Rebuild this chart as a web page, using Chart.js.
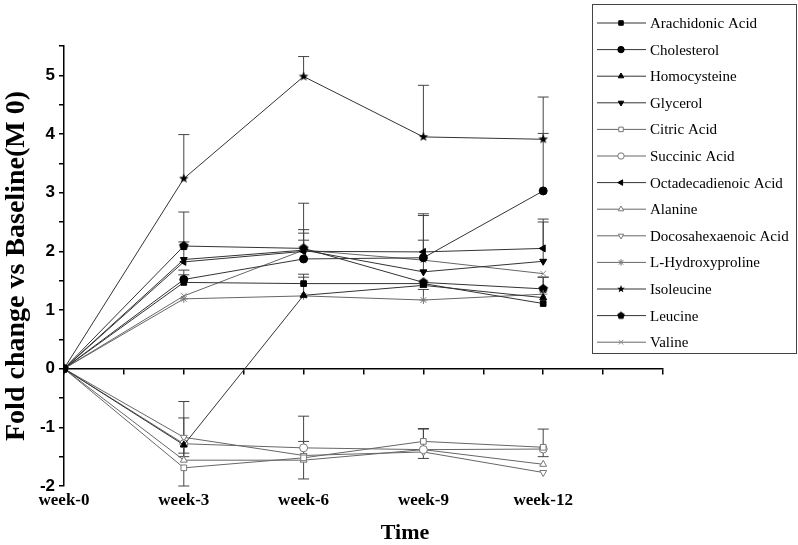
<!DOCTYPE html>
<html>
<head>
<meta charset="utf-8">
<script src="https://cdn.jsdelivr.net/npm/chart.js@4.4.1/dist/chart.umd.min.js"></script>
<style>
  html, body { margin: 0; padding: 0; background: #fff; }
  #wrap { width: 798px; height: 545px; }
</style>
</head>
<body>
<div id="wrap"><canvas id="myChart"></canvas></div>
<script>
// time points (weeks) and labels
const weeks = [0, 3, 6, 9, 12];
const xTickLabels = ['week-0', 'week-3', 'week-6', 'week-9', 'week-12'];
const yTickLabels = [-2, -1, 0, 1, 2, 3, 4, 5];
const xTitle = 'Time';

const names = ['Arachidonic Acid', 'Cholesterol', 'Homocysteine', 'Glycerol', 'Citric Acid',
  'Succinic Acid', 'Octadecadienoic Acid', 'Alanine', 'Docosahexaenoic Acid',
  'L-Hydroxyproline', 'Isoleucine', 'Leucine', 'Valine'];

// fold change values
const arachidonic = [0, 1.47, 1.45, 1.45, 1.11];
const cholesterol = [0, 1.52, 1.87, 1.89, 3.03];
const homocysteine = [0, -1.30, 1.25, 1.42, 1.21];
const glycerol = [0, 1.86, 2.02, 1.65, 1.83];
const citric = [0, -1.69, -1.52, -1.24, -1.34];
const succinic = [0, -1.28, -1.35, -1.38, -1.37];
const octadecadienoic = [0, 1.82, 2.00, 1.99, 2.05];
const alanine = [0, -1.56, -1.56, -1.38, -1.63];
const docosahexaenoic = [0, -1.17, -1.48, -1.42, -1.77];
const hydroxyproline = [0, 1.19, 1.24, 1.17, 1.27];
const isoleucine = [0, 3.24, 4.98, 3.95, 3.91];
const leucine = [0, 2.09, 2.05, 1.47, 1.36];
const valine = [0, 1.24, 2.02, 1.85, 1.62];

// error bars (signed: + goes up, - goes down)
const errArachidonic = [0, 0.13, 0.16, 0, 0];
const errCholesterol = [0, 0.16, 0, 0.75, 0.98];
const errHomocysteine = [0, 0.46, 0.31, 0, 0.35];
const errGlycerol = [0, 0.30, 0.29, 0.54, 0.67];
const errCitric = [0, -0.31, -0.36, 0.21, -0.16];
const errSuccinic = [0, -0.22, 0.11, 0, 0.34];
const errOctadecadienoic = [0, 0, 0.37, 0.62, 0.50];
const errAlanine = [0, 1.0, 0.75, 0.36, 0];
const errDocosahexaenoic = [0, -0.27, 0, -0.11, 0];
const errHydroxyproline = [0, 0, 0, 0.18, 0];
const errIsoleucine = [0, 0.75, 0.34, 0.88, 0.72];
const errLeucine = [0, 0.58, 0.77, 0, 0.20];
const errValine = [0, 0, 0.17, 0, 0];

const values = [arachidonic, cholesterol, homocysteine, glycerol, citric, succinic,
  octadecadienoic, alanine, docosahexaenoic, hydroxyproline, isoleucine, leucine, valine];
const errors = [errArachidonic, errCholesterol, errHomocysteine, errGlycerol, errCitric, errSuccinic,
  errOctadecadienoic, errAlanine, errDocosahexaenoic, errHydroxyproline, errIsoleucine, errLeucine, errValine];

// custom marker images
function starImg(r) {
  const c = document.createElement('canvas');
  c.width = c.height = r * 2 + 2;
  const g = c.getContext('2d');
  g.fillStyle = '#000';
  g.beginPath();
  for (let i = 0; i < 10; i++) {
    const a = -Math.PI / 2 + i * Math.PI / 5;
    const rr = i % 2 ? r * 0.42 : r;
    g.lineTo(r + 1 + rr * Math.cos(a), r + 1 + rr * Math.sin(a));
  }
  g.closePath();
  g.fill();
  return c;
}
function pentaImg(r) {
  const c = document.createElement('canvas');
  c.width = c.height = r * 2 + 2;
  const g = c.getContext('2d');
  g.fillStyle = '#000';
  g.beginPath();
  for (let i = 0; i < 5; i++) {
    const a = -Math.PI / 2 + i * 2 * Math.PI / 5;
    g.lineTo(r + 1 + r * Math.cos(a), r + 1 + r * Math.sin(a));
  }
  g.closePath();
  g.fill();
  return c;
}

const dark = '#333', light = '#666';
const styles = [
  {ps: 'rect', rot: 0, fill: '#000', stroke: '#000', line: dark},
  {ps: 'circle', rot: 0, fill: '#000', stroke: '#000', line: dark},
  {ps: 'triangle', rot: 0, fill: '#000', stroke: '#000', line: dark},
  {ps: 'triangle', rot: 180, fill: '#000', stroke: '#000', line: dark},
  {ps: 'rect', rot: 0, fill: '#fff', stroke: '#777', line: light},
  {ps: 'circle', rot: 0, fill: '#fff', stroke: '#777', line: light},
  {ps: 'triangle', rot: 270, fill: '#000', stroke: '#000', line: dark},
  {ps: 'triangle', rot: 0, fill: '#fff', stroke: '#777', line: light},
  {ps: 'triangle', rot: 180, fill: '#fff', stroke: '#777', line: light},
  {ps: 'star', rot: 0, fill: '#fff', stroke: '#777', line: light},
  {ps: starImg(5), rot: 0, fill: '#000', stroke: '#000', line: dark, small: starImg(4)},
  {ps: pentaImg(5), rot: 0, fill: '#000', stroke: '#000', line: dark, small: pentaImg(4)},
  {ps: 'crossRot', rot: 0, fill: '#fff', stroke: '#888', line: light}
];

const datasets = names.map((n, k) => ({
  label: n,
  data: values[k].map((v, i) => ({x: weeks[i], y: v})),
  errs: errors[k],
  borderColor: styles[k].line,
  borderWidth: 1,
  pointStyle: styles[k].ps,
  pointRotation: styles[k].rot,
  pointRadius: 4,
  pointBackgroundColor: styles[k].fill,
  pointBorderColor: styles[k].stroke,
  pointBorderWidth: 1,
  fill: false,
  tension: 0
}));

const errorBars = {
  id: 'errorBars',
  beforeDatasetsDraw(chart) {
    const ctx = chart.ctx, ys = chart.scales.y;
    chart.data.datasets.forEach((ds, di) => {
      const meta = chart.getDatasetMeta(di);
      ds.errs.forEach((e, i) => {
        if (!e) return;
        const p = meta.data[i];
        const y2 = ys.getPixelForValue(ds.data[i].y + e);
        ctx.save();
        ctx.strokeStyle = '#444';
        ctx.lineWidth = 1;
        ctx.beginPath();
        ctx.moveTo(p.x, p.y);
        ctx.lineTo(p.x, y2);
        ctx.moveTo(p.x - 5.5, y2);
        ctx.lineTo(p.x + 5.5, y2);
        ctx.stroke();
        ctx.restore();
      });
    });
  }
};

const serif = '"Liberation Serif", "Times New Roman", serif';

// boxed legend on the right plus the x title (centred on the page, not the plot)
const boxLegend = {
  id: 'boxLegend',
  afterDraw(chart) {
    const ctx = chart.ctx;
    ctx.save();
    ctx.strokeStyle = '#444';
    ctx.lineWidth = 1;
    ctx.strokeRect(592.5, 4.5, 204, 349);
    chart.data.datasets.forEach((ds, i) => {
      const y = 23 + i * 26.6;
      const st = styles[i];
      ctx.strokeStyle = st.line;
      ctx.beginPath();
      ctx.moveTo(597, y);
      ctx.lineTo(646, y);
      ctx.stroke();
      ctx.fillStyle = st.fill;
      ctx.strokeStyle = st.stroke;
      Chart.helpers.drawPoint(ctx, {
        pointStyle: st.small || st.ps, rotation: st.rot, radius: 3.2, borderWidth: 1
      }, 621, y);
      ctx.fillStyle = '#000';
      ctx.font = '15px ' + serif;
      ctx.textBaseline = 'middle';
      ctx.textAlign = 'left';
      ctx.fillText(ds.label, 650, y + 1);
    });
    ctx.font = 'bold 22px ' + serif;
    ctx.textAlign = 'center';
    ctx.textBaseline = 'middle';
    ctx.fillText(xTitle, 405, 533);
    ctx.restore();
  }
};

const ctx = document.getElementById('myChart');
const chart = new Chart(ctx, {
  type: 'line',
  data: {datasets: datasets},
  plugins: [errorBars, boxLegend],
  options: {
    responsive: true,
    maintainAspectRatio: false,
    animation: false,
    layout: {padding: {top: 46, right: 135, bottom: 0, left: 0}},
    plugins: {legend: {display: false}, tooltip: {enabled: false}},
    scales: {
      x: {
        type: 'linear', min: 0, max: 15, position: 'bottom',
        afterBuildTicks: s => { s.ticks = weeks.map(v => ({value: v})); },
        ticks: {
          autoSkip: false, maxRotation: 0, padding: 4, color: '#000',
          font: {family: serif, weight: 'bold', size: 17},
          callback: (v, i) => xTickLabels[i] || ''
        },
        grid: {display: false, drawTicks: false},
        border: {display: false},
        afterFit: s => { s.height = 59; }
      },
      x0: {
        type: 'linear', min: 0, max: 15, position: {y: 0},
        ticks: {display: false, stepSize: 1.5},
        grid: {drawOnChartArea: false, tickLength: 5, color: '#000', lineWidth: 1.5},
        border: {color: '#000', width: 1.5}
      },
      y: {
        min: -2, max: 5.5,
        ticks: {
          stepSize: 0.5, color: '#000', padding: 4,
          font: {family: '"Liberation Sans", Arial, sans-serif', weight: 'bold', size: 17},
          callback: v => yTickLabels.includes(v) ? String(v) : ''
        },
        grid: {drawOnChartArea: false, tickLength: 5, color: '#000', lineWidth: 1.5},
        border: {color: '#000', width: 1.5},
        title: {
          display: true, text: 'Fold change vs Baseline(M 0)', color: '#000', padding: {top: 0, bottom: 0},
          font: {family: serif, weight: 'bold', size: 28}
        },
        afterFit: s => { s.width = 64; }
      }
    }
  }
});
</script>
</body>
</html>
